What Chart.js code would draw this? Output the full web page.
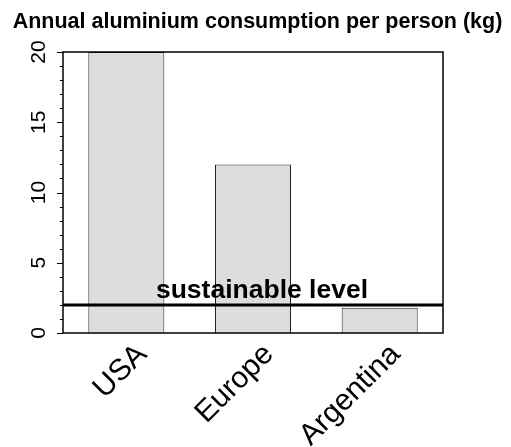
<!DOCTYPE html>
<html>
<head>
<meta charset="utf-8">
<script src="https://cdn.jsdelivr.net/npm/chart.js@4/dist/chart.umd.min.js"></script>
<style>
  html, body { margin: 0; padding: 0; background: #fff; }
  #wrap { width: 511px; height: 447px; }
</style>
</head>
<body>
<div id="wrap"><canvas id="alChart"></canvas></div>
<script>
const chartTitle = 'Annual aluminium consumption per person (kg)';
const countries = ['USA', 'Europe', 'Argentina'];
const consumption = [20, 12, 1.8];
const sustainableLevel = 2;
const levelLabel = 'sustainable level';
const yLabels = [0, 5, 10, 15, 20];

const FONT = '"Liberation Sans", Arial, Helvetica, sans-serif';

// title, box, reference line and R-style y axis
const decor = {
    id: 'decor',
    afterDatasetsDraw(chart) {
        const ctx = chart.ctx;
        const a = chart.chartArea;
        const y = chart.scales.y;
        ctx.save();
        ctx.fillStyle = '#000';
        ctx.strokeStyle = '#000';

        // title
        ctx.font = 'bold 21.5px ' + FONT;
        ctx.textAlign = 'center';
        ctx.textBaseline = 'alphabetic';
        ctx.fillText(chartTitle, chart.width / 2 + 2, 28);

        // sustainable level line
        const ly = y.getPixelForValue(sustainableLevel);
        ctx.lineWidth = 3;
        ctx.beginPath();
        ctx.moveTo(a.left, ly);
        ctx.lineTo(a.right, ly);
        ctx.stroke();
        ctx.font = 'bold 26.5px ' + FONT;
        ctx.fillText(levelLabel, (a.left + a.right) / 2 + 9, ly - 7);

        // plot box
        ctx.lineWidth = 1.5;
        ctx.strokeRect(a.left, a.top, a.right - a.left, a.bottom - a.top);

        // y ticks: long for labelled, short for the rest
        ctx.lineWidth = 1;
        y.ticks.forEach(t => {
            const py = Math.round(y.getPixelForValue(t.value)) + 0.5;
            const len = yLabels.includes(t.value) ? 6 : 3;
            ctx.beginPath();
            ctx.moveTo(a.left - len, py);
            ctx.lineTo(a.left, py);
            ctx.stroke();
        });

        // rotated y labels
        ctx.font = '21px ' + FONT;
        ctx.textAlign = 'center';
        ctx.textBaseline = 'middle';
        yLabels.forEach(v => {
            ctx.save();
            ctx.translate(39, y.getPixelForValue(v));
            ctx.rotate(-Math.PI / 2);
            ctx.fillText(String(v), 0, 0);
            ctx.restore();
        });
        ctx.restore();
    }
};

new Chart(document.getElementById('alChart'), {
    type: 'bar',
    data: {
        labels: countries,
        datasets: [{
            data: consumption,
            backgroundColor: '#dddddd',
            borderColor: '#222',
            borderWidth: 1,
            barPercentage: 0.6,
            categoryPercentage: 1
        }]
    },
    options: {
        responsive: true,
        maintainAspectRatio: false,
        animation: false,
        layout: { padding: { top: 52, right: 68, left: 0, bottom: 0 } },
        plugins: {
            legend: { display: false },
            title: { display: false },
            tooltip: { enabled: false }
        },
        scales: {
            x: {
                grid: { display: false, drawTicks: false },
                border: { display: false },
                ticks: {
                    color: '#000',
                    font: { family: FONT, size: 30 },
                    minRotation: 45,
                    maxRotation: 45,
                    labelOffset: 16,
                    padding: 4
                },
                afterFit(scale) { scale.height = 114; }
            },
            y: {
                min: 0,
                max: 20,
                ticks: { display: false, stepSize: 1 },
                grid: { display: false, drawTicks: false },
                border: { display: false },
                afterFit(scale) { scale.width = 63; }
            }
        }
    },
    plugins: [decor]
});
</script>
</body>
</html>
